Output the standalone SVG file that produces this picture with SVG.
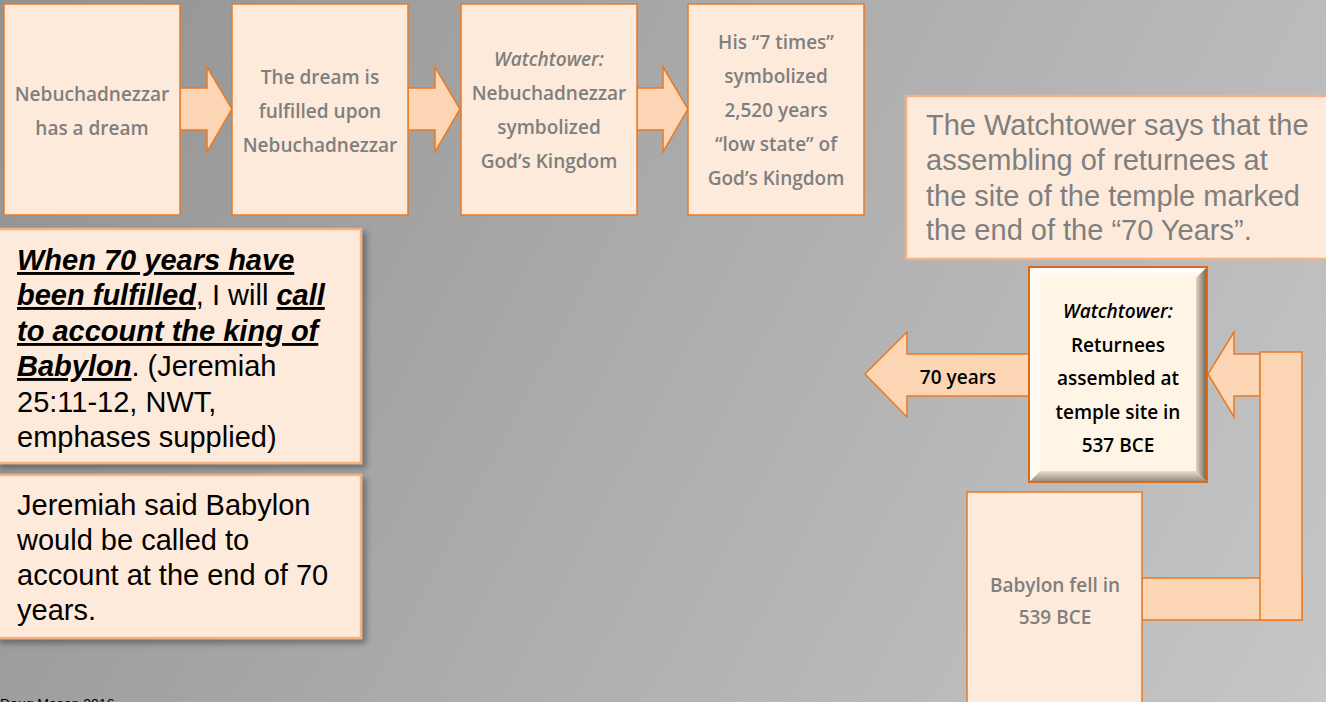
<svg xmlns="http://www.w3.org/2000/svg" width="1326" height="702" viewBox="0 0 1326 702">
<defs>
<linearGradient id="bg" x1="0" y1="0" x2="1326" y2="702" gradientUnits="userSpaceOnUse">
<stop offset="0" stop-color="#929292"/>
<stop offset="0.5" stop-color="#adadad"/>
<stop offset="1" stop-color="#c6c6c6"/>
</linearGradient>
<linearGradient id="bevT" x1="0" y1="0" x2="0" y2="1"><stop offset="0" stop-color="#ffffff"/><stop offset="1" stop-color="#fff5e6"/></linearGradient>
<linearGradient id="bevB" x1="0" y1="0" x2="0" y2="1"><stop offset="0" stop-color="#e8dccb"/><stop offset="1" stop-color="#9a8f86"/></linearGradient>
<linearGradient id="bevR" x1="0" y1="0" x2="1" y2="0"><stop offset="0" stop-color="#e0d4c4"/><stop offset="1" stop-color="#7a6a5c"/></linearGradient>
<filter id="sh" x="-10%" y="-10%" width="130%" height="130%">
<feDropShadow dx="4" dy="4" stdDeviation="3" flood-color="#000" flood-opacity="0.35"/>
</filter>
<style>
.box{fill:#fdeadb;stroke:#e87b27;stroke-width:1.5}
.tbox{fill:#fdeadb;stroke:#f4b183;stroke-width:2.5}
.arr{fill:#fcd5b4;stroke:#e87b27;stroke-width:1.5}
.dec{font-family:"Open Sans","Lato",sans-serif;font-weight:600;font-size:19px;fill:#7f7f7f;text-anchor:middle}
.decb{font-family:"Open Sans","Lato",sans-serif;font-weight:600;font-size:19px;fill:#000;text-anchor:middle}
.body{font-family:"Liberation Sans",Arial,sans-serif;font-size:29px}
</style>
</defs>
<rect width="1326" height="702" fill="url(#bg)"/>

<g id="connectors">
<polygon class="arr" points="180,88 207,88 207,67 232,109 207,152 207,130 180,130"/>
<polygon class="arr" points="408,88 435,88 435,67 460,109 435,152 435,130 408,130"/>
<polygon class="arr" points="637,88 663,88 663,67 688,109 663,152 663,130 637,130"/>
<polygon class="arr" points="1029,354 907,354 907,332 865,374 907,417 907,396 1029,396"/>
<polygon class="arr" points="1260,354 1234,354 1234,332 1208,374 1234,417 1234,396 1260,396"/>
<rect class="arr" x="1142" y="578" width="160" height="42"/>
<rect class="arr" x="1260" y="352" width="42" height="268"/>
<text class="decb" x="958" y="384" style="font-size:19px">70 years</text>
</g>

<g id="n1">
<rect class="box" x="4" y="4" width="176" height="211"/>
<text class="dec" x="92" y="101">Nebuchadnezzar</text>
<text class="dec" x="92" y="135">has a dream</text>
</g>
<g id="n2">
<rect class="box" x="232" y="4" width="176" height="211"/>
<text class="dec" x="320" y="84">The dream is</text>
<text class="dec" x="320" y="118">fulfilled upon</text>
<text class="dec" x="320" y="152">Nebuchadnezzar</text>
</g>
<g id="n3">
<rect class="box" x="461" y="4" width="176" height="211"/>
<text class="dec" x="549" y="66" font-style="italic" font-weight="normal">Watchtower:</text>
<text class="dec" x="549" y="100">Nebuchadnezzar</text>
<text class="dec" x="549" y="134">symbolized</text>
<text class="dec" x="549" y="168">God’s Kingdom</text>
</g>
<g id="n4">
<rect class="box" x="688" y="4" width="176" height="211"/>
<text class="dec" x="776" y="49">His “7 times”</text>
<text class="dec" x="776" y="83">symbolized</text>
<text class="dec" x="776" y="117">2,520 years</text>
<text class="dec" x="776" y="151">“low state” of</text>
<text class="dec" x="776" y="185">God’s Kingdom</text>
</g>

<g id="quote">
<rect class="tbox" x="-4" y="229" width="365" height="234" filter="url(#sh)"/>
<text class="body" x="17" y="270" font-weight="bold" font-style="italic" text-decoration="underline">When 70 years have</text>
<text class="body" x="17" y="305"><tspan font-weight="bold" font-style="italic" text-decoration="underline">been fulfilled</tspan>, I will <tspan font-weight="bold" font-style="italic" text-decoration="underline">call</tspan></text>
<text class="body" x="17" y="341" font-weight="bold" font-style="italic" text-decoration="underline">to account the king of</text>
<text class="body" x="17" y="376"><tspan font-weight="bold" font-style="italic" text-decoration="underline">Babylon</tspan>. (Jeremiah</text>
<text class="body" x="17" y="412">25:11-12, NWT,</text>
<text class="body" x="17" y="447">emphases supplied)</text>
</g>

<g id="jeremiah">
<rect class="tbox" x="-4" y="475" width="365" height="163" filter="url(#sh)"/>
<text class="body" x="17" y="515">Jeremiah said Babylon</text>
<text class="body" x="17" y="550">would be called to</text>
<text class="body" x="17" y="585">account at the end of 70</text>
<text class="body" x="17" y="620">years.</text>
</g>

<g id="wtnote">
<rect class="tbox" x="906" y="96" width="424" height="163"/>
<text class="body" x="926" y="135" fill="#7f7f7f">The Watchtower says that the</text>
<text class="body" x="926" y="170" fill="#7f7f7f">assembling of returnees at</text>
<text class="body" x="926" y="206" fill="#7f7f7f">the site of the temple marked</text>
<text class="body" x="926" y="240" fill="#7f7f7f">the end of the “70 Years”.</text>
</g>

<g id="returnees">
<rect x="1029" y="267" width="178" height="215" fill="#fff5e6" stroke="#e06a10" stroke-width="2"/>
<polygon points="1030,268 1206,268 1196,278 1040,278" fill="url(#bevT)"/>
<polygon points="1030,481 1206,481 1196,471 1040,471" fill="url(#bevB)"/>
<polygon points="1206,268 1206,481 1196,471 1196,278" fill="url(#bevR)"/>
<polygon points="1030,268 1030,481 1040,471 1040,278" fill="#fffaf2"/>
<rect x="1029" y="267" width="178" height="215" fill="none" stroke="#d86a1a" stroke-width="2"/>
<text class="decb" x="1118" y="318" font-style="italic" font-weight="normal">Watchtower:</text>
<text class="decb" x="1118" y="352">Returnees</text>
<text class="decb" x="1118" y="385">assembled at</text>
<text class="decb" x="1118" y="419">temple site in</text>
<text class="decb" x="1118" y="452">537 BCE</text>
</g>

<g id="babylon">
<rect class="box" x="967" y="492" width="175" height="220"/>
<text class="dec" x="1055" y="592">Babylon fell in</text>
<text class="dec" x="1055" y="624">539 BCE</text>
</g>

<text x="0" y="709" font-family="Liberation Sans, Arial, sans-serif" font-size="14" fill="#000">Doug Mason 2016</text>
</svg>
